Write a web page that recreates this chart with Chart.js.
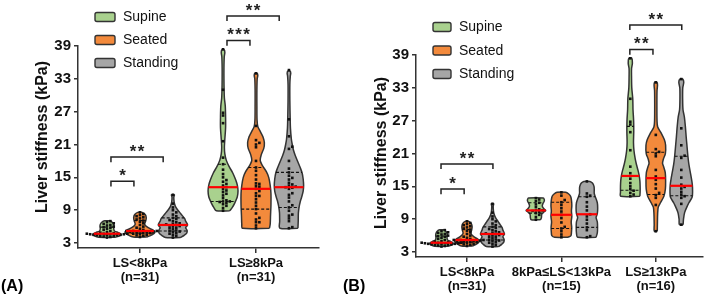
<!DOCTYPE html>
<html><head><meta charset="utf-8">
<script src="https://cdn.jsdelivr.net/npm/chart.js@4"></script>
<style>
html,body{margin:0;padding:0;background:#fff;}
#wrap{position:relative;width:708px;height:303px;overflow:hidden;font-family:"Liberation Sans",Arial,sans-serif;}
.pane{position:absolute;top:0;width:354px;height:303px;}
.pl{position:absolute;font-weight:bold;font-size:16px;color:#000;line-height:16px;}
</style></head><body>
<div id="wrap">
<div class="pane" style="left:0"><canvas id="cA" width="354" height="303"></canvas></div>
<div class="pane" style="left:354px"><canvas id="cB" width="354" height="303"></canvas></div>
<div class="pl" style="left:1px;top:278px">(A)</div>
<div class="pl" style="left:343px;top:278px">(B)</div>
</div>
<script>
// ---------- data ----------
const seriesNames = ['Supine', 'Seated', 'Standing'];
const seriesColors = ['#A9D18E', '#F38A3C', '#A6A6A6'];
const yTickValues = [3, 9, 15, 21, 27, 33, 39];
const yTitle = 'Liver stiffness (kPa)';
const catsA = [['LS<8kPa', '(n=31)'], ['LS≥8kPa', '(n=31)']];
const catsB = [['LS<8kPa', '(n=31)'], ['8kPa≤LS<13kPa', '(n=15)'], ['LS≥13kPa', '(n=16)']];

// individual measurements (kPa)
const lowSupine = [4.0,4.1,4.2,4.3,4.3,4.4,4.4,4.5,4.5,4.5,4.6,4.6,4.6,4.7,4.7,4.7,4.8,4.9,5.0,5.2,5.4,5.6,5.8,5.9,6.0,6.2,6.3,6.5,6.6,6.8,7.0];
const lowSeated = [4.1,4.3,4.4,4.5,4.6,4.7,4.8,4.8,4.9,5.0,5.0,5.1,5.1,5.2,5.2,5.2,5.4,5.6,5.8,6.0,6.3,6.6,6.9,7.1,7.3,7.5,7.7,7.9,8.1,8.3,8.6];
const lowStanding = [4.0,4.3,4.5,4.7,4.8,5.0,5.1,5.2,5.3,5.5,5.7,5.8,6.0,6.1,6.2,6.3,6.4,6.5,6.6,6.8,7.0,7.2,7.4,7.6,7.9,8.2,8.6,9.0,9.5,10.2,11.8];
const midSupine = [8.9,9.4,9.8,10.1,10.3,10.5,10.6,10.6,10.8,11.2,11.7,12.0,12.3,12.6,12.85];
const midSeated = [5.7,6.2,6.8,7.3,7.6,8.4,9.2,9.8,10.4,11.0,11.6,12.1,12.5,13.3,13.9];
const midStanding = [5.7,5.9,7.0,7.5,8.2,8.9,9.5,9.9,10.6,11.3,12.1,13.1,13.3,13.7,15.9];
const highSupine = [13.2,13.5,13.8,14.2,14.5,15.0,15.6,16.4,17.4,18.6,21.6,24.9,26.3,26.8,31.0,38.4];
const highSeated = [6.8,11.6,12.9,13.4,13.8,14.6,15.4,16.2,16.8,18.0,20.5,21.0,21.3,21.8,24.4,34.0];
const highStanding = [8.0,11.8,12.9,13.2,13.5,14.0,14.6,14.9,15.3,16.6,18.0,20.2,20.6,22.5,25.6,34.6];

// violin density profiles: [kPa, relative density]
const shapeLowSupine = [[4.05,0.55],[4.3,0.85],[4.6,0.95],[4.9,0.75],[5.2,0.5],[5.6,0.45],[6.0,0.47],[6.4,0.45],[6.8,0.35],[7.05,0.15]];
const shapeLowSeated = [[4.1,0.45],[4.5,0.8],[4.9,1.0],[5.3,0.9],[5.8,0.55],[6.4,0.32],[7.0,0.38],[7.6,0.42],[8.2,0.35],[8.6,0.15]];
const shapeLowStanding = [[4.0,0.5],[4.4,0.75],[4.8,0.92],[5.3,0.95],[5.8,0.85],[6.3,0.98],[7.0,0.85],[7.5,0.78],[8.1,0.6],[8.6,0.45],[9.3,0.25],[9.8,0.15],[10.5,0.08],[11.4,0.06],[11.8,0.1]];
const shapeAllSupine = [[8.9,0.45],[9.5,0.62],[10.3,0.78],[11.4,0.95],[12.5,1.0],[13.5,0.96],[14.5,0.85],[15.8,0.65],[17,0.4],[18.1,0.22],[19.3,0.12],[20.5,0.09],[22,0.12],[24,0.17],[26,0.17],[28,0.15],[29.5,0.09],[31,0.07],[33,0.06],[35,0.06],[37,0.08],[37.8,0.12],[38.3,0.08]];
const shapeAllSeated = [[5.7,0.9],[6.5,0.95],[8,0.97],[10,1.0],[12,1.0],[13.5,0.95],[15,0.85],[16,0.7],[17.2,0.42],[18.1,0.28],[19.2,0.36],[20.3,0.52],[21.3,0.56],[22.3,0.48],[23.3,0.3],[24.3,0.12],[25.5,0.07],[28,0.06],[31,0.06],[33,0.08],[33.6,0.12],[34.0,0.08]];
const shapeAllStanding = [[5.7,0.6],[7,0.62],[8.5,0.63],[9.6,0.68],[10.5,0.75],[11.4,0.85],[12.5,0.95],[13.5,0.98],[14.7,0.95],[15.8,0.88],[16.8,0.75],[17.8,0.6],[19,0.42],[20,0.3],[21,0.22],[22,0.16],[24,0.1],[26,0.08],[29,0.06],[32,0.06],[33.5,0.09],[34,0.12],[34.4,0.08]];
const shapeMidSupine = [[8.9,0.38],[9.3,0.45],[9.9,0.48],[10.3,0.65],[10.6,0.8],[10.9,0.65],[11.4,0.52],[11.9,0.58],[12.3,0.68],[12.6,0.68],[12.85,0.6]];
const shapeMidSeated = [[5.7,0.55],[6.0,0.78],[6.6,0.82],[7.5,0.84],[8.5,0.8],[9.5,0.85],[10.5,0.82],[11.5,0.85],[12.5,0.82],[13.2,0.75],[13.6,0.6],[13.9,0.35]];
const shapeMidStanding = [[5.7,0.75],[6.5,0.85],[7.5,0.87],[8.5,0.85],[9.3,0.75],[10.0,0.85],[11.0,0.88],[12.0,0.85],[13.0,0.7],[13.7,0.6],[14.4,0.6],[15.0,0.58],[15.6,0.45],[15.9,0.25]];
const shapeHighSupine = [[13.2,0.78],[14.0,0.8],[15.0,0.8],[16.0,0.78],[17.0,0.72],[18.0,0.62],[19.0,0.5],[20.0,0.4],[21.5,0.3],[23,0.26],[25,0.28],[27,0.27],[29,0.22],[31,0.2],[33,0.12],[35,0.1],[36.5,0.1],[37.5,0.17],[38.4,0.12]];
const shapeHighSeated = [[6.8,0.12],[8,0.13],[10,0.15],[11.2,0.2],[12,0.38],[13.2,0.66],[14.5,0.78],[16,0.8],[17.5,0.77],[18.5,0.65],[19.2,0.55],[20,0.62],[21,0.78],[22.5,0.8],[23.5,0.7],[24.8,0.42],[25.9,0.15],[27,0.1],[30,0.09],[32.5,0.1],[33.5,0.14],[34,0.1]];
const shapeHighStanding = [[8.0,0.15],[9,0.18],[10.2,0.27],[11.2,0.45],[12,0.62],[13,0.88],[14,0.92],[15.3,0.9],[16.5,0.82],[17.5,0.74],[19,0.62],[20.5,0.54],[22.5,0.46],[24,0.4],[26,0.33],[27.7,0.25],[29,0.14],[31,0.11],[33,0.12],[34,0.2],[34.6,0.12]];

// significance annotations: category, series a, series b, bracket level (kPa), label
const sigA = [[0,0,1,14.3,'*'],[0,0,2,18.7,'**'],[1,0,1,40.0,'***'],[1,0,2,44.5,'**']];
const sigB = [[0,0,1,14.5,'*'],[0,0,2,19.1,'**'],[2,0,1,40.0,'**'],[2,0,2,44.5,'**']];

// ---------- helpers ----------
const FONT = '"Liberation Sans", Arial, sans-serif';
Chart.defaults.font.family = FONT;

function quantile(sorted, p) {
  const n = sorted.length, r = p * (n + 1);
  if (r <= 1) return sorted[0];
  if (r >= n) return sorted[n - 1];
  const lo = Math.floor(r), f = r - lo;
  return sorted[lo - 1] + f * (sorted[lo] - sorted[lo - 1]);
}
function densAt(shape, v) {
  if (v <= shape[0][0]) return shape[0][1];
  for (let i = 1; i < shape.length; i++) {
    if (v <= shape[i][0]) {
      const [a, da] = shape[i - 1], [b, db] = shape[i];
      return da + (db - da) * (v - a) / (b - a);
    }
  }
  return shape[shape.length - 1][1];
}
function swarm(center, sorted, stepX, thrY) {
  const placed = [], pts = [];
  for (const v of sorted) {
    let off = 0;
    for (let j = 0; j < 40; j++) {
      const k = j === 0 ? 0 : (j % 2 ? Math.ceil(j / 2) : -j / 2);
      const o = k * stepX;
      if (placed.every(p => Math.abs(p.y - v) >= thrY || Math.abs(p.x - o) >= stepX * 0.99)) { off = o; break; }
    }
    placed.push({x: off, y: v});
    pts.push({x: center + off, y: v});
  }
  return pts;
}
function violin(center, values, shape, color, W, stepX) {
  const out = [];
  const outline = [];
  shape.forEach(([v, d]) => outline.push({x: center + d * W, y: v}));
  for (let i = shape.length - 1; i >= 0; i--) outline.push({x: center - shape[i][1] * W, y: shape[i][0]});
  outline.push({x: outline[0].x, y: outline[0].y});
  out.push({type: 'line', data: outline, fill: 'shape', backgroundColor: color, borderColor: '#333',
    borderWidth: 1.5, pointRadius: 0, tension: 0.3, order: 5});
  const s = values.slice().sort((a, b) => a - b);
  const q1 = quantile(s, 0.25), med = quantile(s, 0.5), q3 = quantile(s, 0.75);
  [q1, q3].forEach(q => {
    const w = densAt(shape, q) * W;
    out.push({type: 'line', data: [{x: center - w, y: q}, {x: center + w, y: q}], borderColor: '#111',
      borderWidth: 1.1, borderDash: [3, 2], pointRadius: 0, tension: 0, order: 4});
  });
  out.push({type: 'scatter', data: swarm(center, s, stepX, 0.5), pointStyle: 'rect', pointRadius: 1.85,
    pointBorderWidth: 0, backgroundColor: '#111', borderColor: '#111', order: 2});
  const wm = densAt(shape, med) * W;
  out.push({type: 'line', data: [{x: center - wm, y: med}, {x: center + wm, y: med}], borderColor: '#ff0000',
    borderWidth: 2.2, pointRadius: 0, tension: 0, order: 1});
  return out;
}

function makeChart(id, cfg) {
  const datasets = [];
  cfg.groups.forEach((grp, ci) => {
    grp.forEach(([vals, shape], si) => {
      datasets.push(...violin(ci + cfg.offsets[si], vals, shape, seriesColors[si], cfg.W, cfg.stepX));
    });
  });
  cfg.sig.forEach(([c, a, b, lev]) => {
    const x1 = c + cfg.anchors[a], x2 = c + cfg.anchors[b];
    datasets.push({type: 'line', data: [{x: x1, y: lev - 0.95}, {x: x1, y: lev}, {x: x2, y: lev}, {x: x2, y: lev - 0.95}],
      borderColor: '#222', borderWidth: 1.5, pointRadius: 0, tension: 0, fill: false, clip: false, order: 0});
  });
  const decor = {
    id: 'decor',
    afterDraw(chart) {
      const {ctx, scales: {x, y}} = chart;
      ctx.save();
      ctx.fillStyle = '#222';
      ctx.textAlign = 'center';
      ctx.textBaseline = 'alphabetic';
      ctx.font = 'bold 17px ' + FONT;
      cfg.sig.forEach(([c, a, b, lev, txt]) => {
        const x1 = x.getPixelForValue(c + cfg.anchors[a]), x2 = x.getPixelForValue(c + cfg.anchors[b]);
        const cx = (x1 + x2) / 2, cy = y.getPixelForValue(lev) - 10;
        const n = txt.length, gap = 8;
        for (let i = 0; i < n; i++) ctx.fillText('*', cx + (i - (n - 1) / 2) * gap, cy + 0.57 * 17);
      });
      // legend
      ctx.textAlign = 'left';
      ctx.textBaseline = 'middle';
      ctx.font = '14px ' + FONT;
      seriesNames.forEach((name, i) => {
        const ry = cfg.legY + i * cfg.legGap;
        ctx.beginPath();
        ctx.roundRect(cfg.legX, ry - 4.5, cfg.legW, 9, 2);
        ctx.fillStyle = seriesColors[i];
        ctx.fill();
        ctx.lineWidth = 1.4;
        ctx.strokeStyle = '#333';
        ctx.stroke();
        ctx.fillStyle = '#111';
        ctx.fillText(name, cfg.legX + cfg.legW + 8, ry + 0.5);
      });
      // y title
      ctx.translate(cfg.titleX, cfg.titleY);
      ctx.rotate(-Math.PI / 2);
      ctx.textAlign = 'center';
      ctx.font = 'bold 16px ' + FONT;
      ctx.fillStyle = '#111';
      ctx.fillText(yTitle, 0, 0);
      ctx.restore();
    }
  };
  return new Chart(document.getElementById(id), {
    type: 'scatter',
    data: {datasets},
    plugins: [decor],
    options: {
      responsive: false, animation: false, devicePixelRatio: 1,
      layout: {padding: {top: cfg.top, right: cfg.right, left: 0, bottom: 0}},
      plugins: {legend: {display: false}, tooltip: {enabled: false}},
      events: [],
      scales: {
        x: {
          type: 'linear', min: cfg.xmin, max: cfg.xmax,
          afterFit: s => { s.height = cfg.xh; },
          afterBuildTicks: ax => { ax.ticks = cfg.cats.map((c, i) => ({value: i})); },
          ticks: {callback: v => cfg.cats[v], font: {size: 13, weight: 'bold', lineHeight: 1.1}, color: '#111', padding: 3, maxRotation: 0, autoSkip: false},
          grid: {drawOnChartArea: false, drawTicks: true, tickLength: 5, color: '#333', lineWidth: 1.5},
          border: {display: true, color: '#333', width: 1.5}
        },
        y: {
          type: 'linear', min: 2.09, max: 39,
          afterFit: s => { s.width = cfg.yw; },
          afterBuildTicks: ax => { ax.ticks = yTickValues.map(v => ({value: v})); },
          ticks: {font: {size: 15, weight: 'bold'}, color: '#111', padding: 3},
          grid: {drawOnChartArea: false, drawTicks: true, tickLength: 4, color: '#333', lineWidth: 1.5},
          border: {display: true, color: '#333', width: 1.5}
        }
      }
    }
  });
}

const allSupine = midSupine.concat(highSupine);
const allSeated = midSeated.concat(highSeated);
const allStanding = midStanding.concat(highStanding);

makeChart('cA', {
  cats: catsA,
  groups: [
    [[lowSupine, shapeLowSupine], [lowSeated, shapeLowSeated], [lowStanding, shapeLowStanding]],
    [[allSupine, shapeAllSupine], [allSeated, shapeAllSeated], [allStanding, shapeAllStanding]]
  ],
  sig: sigA,
  offsets: [-0.284, 0, 0.284], anchors: [-0.25, -0.052, 0.2],
  W: 0.129, stepX: 0.029,
  xmin: -0.534, xmax: 1.543, top: 46, right: 35, xh: 55, yw: 78,
  legX: 95, legW: 20, legY: 17, legGap: 23,
  titleX: 43, titleY: 137
});
makeChart('cB', {
  cats: catsB,
  groups: [
    [[lowSupine, shapeLowSupine], [lowSeated, shapeLowSeated], [lowStanding, shapeLowStanding]],
    [[midSupine, shapeMidSupine], [midSeated, shapeMidSeated], [midStanding, shapeMidStanding]],
    [[highSupine, shapeHighSupine], [highSeated, shapeHighSeated], [highStanding, shapeHighStanding]]
  ],
  sig: sigB,
  offsets: [-0.27, 0, 0.27], anchors: [-0.275, -0.03, 0.275],
  W: 0.13, stepX: 0.035,
  xmin: -0.54, xmax: 2.5, top: 55, right: 5, xh: 46, yw: 62,
  legX: 79, legW: 18, legY: 27, legGap: 23.5,
  titleX: 28, titleY: 153
});
</script>
</body></html>
